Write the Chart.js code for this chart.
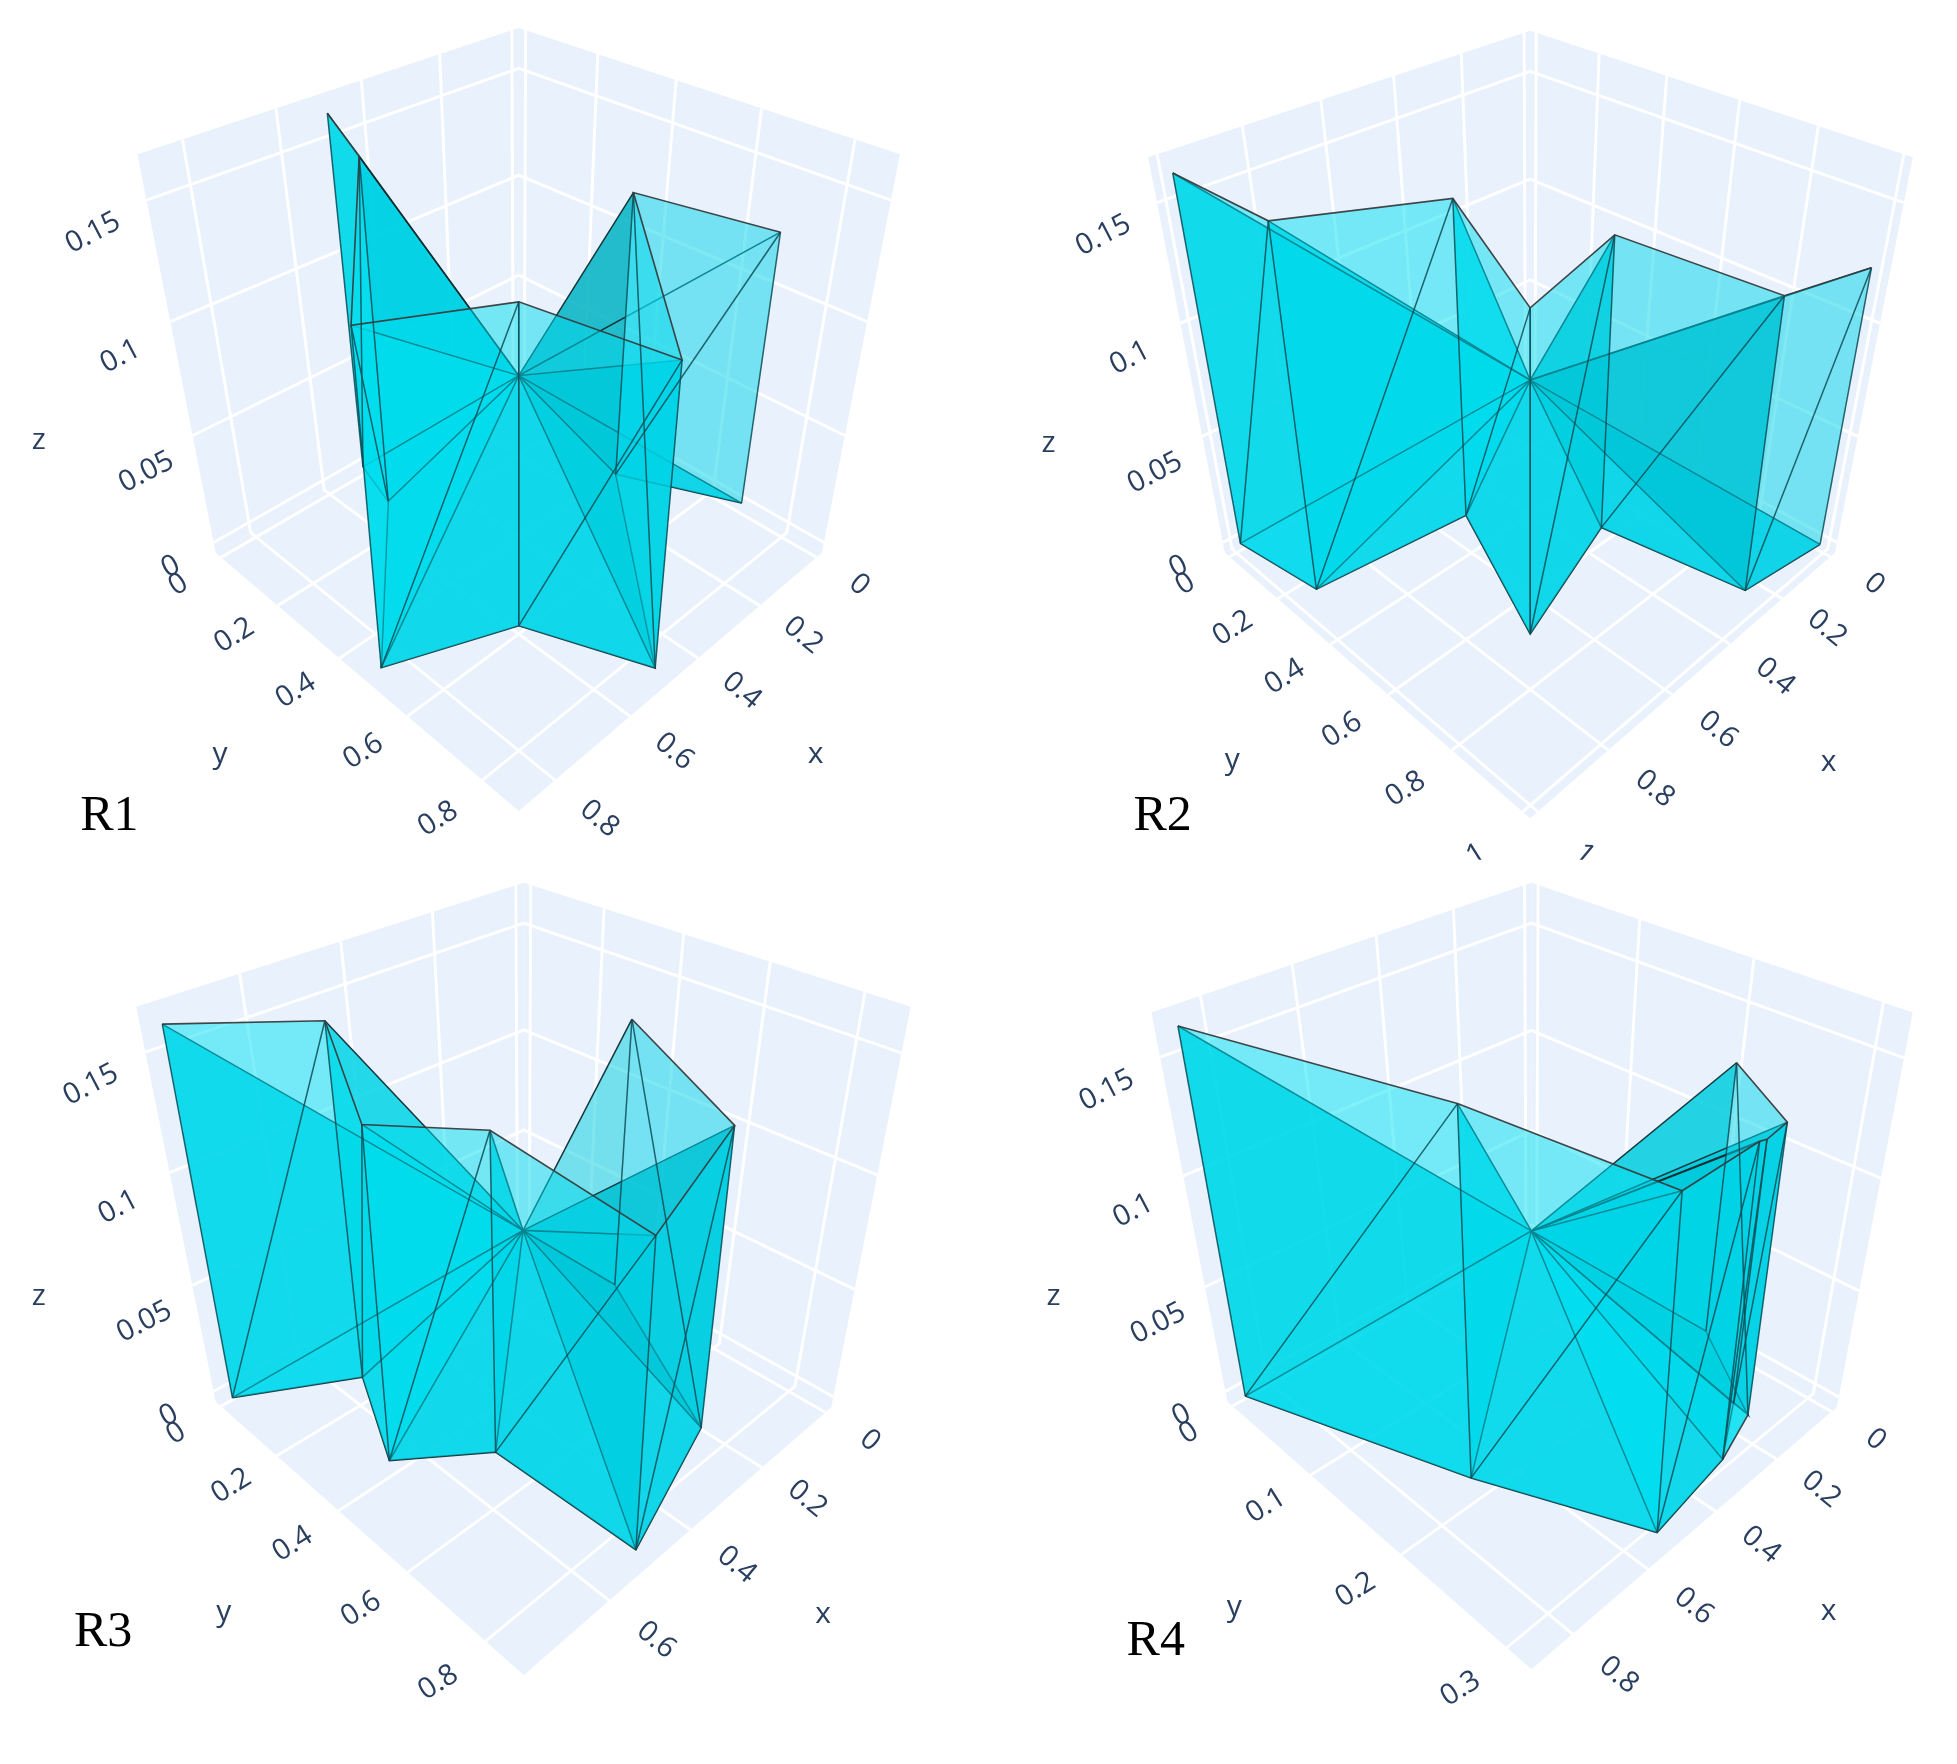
<!DOCTYPE html>
<html>
<head>
<meta charset="utf-8">
<title>R1-R4 meshes</title>
<script src="https://cdn.jsdelivr.net/npm/chart.js@4/dist/chart.umd.min.js"></script>
<style>
  html, body { margin: 0; background: #fff; }
  #grid { position: relative; width: 1957px; height: 1764px; }
  canvas { position: absolute; }
</style>
</head>
<body>
<div id="grid"></div>
<script>
// ---------------------------------------------------------------------------
// Data: the plan outline of each run (x, y) and its height z.
// Every outline vertex exists twice, at z = 0 and at z, and all faces also
// touch the origin.
// ---------------------------------------------------------------------------
const r1X = [0.506, 0.543, 0.865, 0.605, 0.500, 0.120, 0.000];
const r1Y = [0.006, 0.138, 0.498, 0.605, 0.864, 0.429, 0.690];
const r1Z = [0.162, 0.155, 0.140, 0.136, 0.127, 0.131, 0.124];

const r2X = [0.992, 0.957, 0.541, 0.711, 0.339, 0.269, 0.014];
const r2Y = [0.012, 0.268, 0.317, 0.711, 0.584, 0.962, 0.995];
const r2Z = [0.162, 0.157, 0.143, 0.137, 0.132, 0.128, 0.124];

const r3X = [0.770, 0.565, 0.667, 0.523, 0.514, 0.220, 0.007];
const r3Y = [0.024, 0.160, 0.389, 0.516, 0.866, 0.755, 0.314];
const r3Z = [0.163, 0.158, 0.142, 0.137, 0.126, 0.131, 0.128];

const r4X = [0.878, 0.696, 0.543, 0.304, 0.156, 0.163, 0.005];
const r4Y = [0.008, 0.189, 0.311, 0.300, 0.270, 0.285, 0.202];
const r4Z = [0.164, 0.158, 0.141, 0.137, 0.119, 0.130, 0.126];

// tick labels
const r1XTicks = ["0", "0.2", "0.4", "0.6", "0.8"];
const r1YTicks = ["0", "0.2", "0.4", "0.6", "0.8"];
const r2XTicks = ["0", "0.2", "0.4", "0.6", "0.8", "1"];
const r2YTicks = ["0", "0.2", "0.4", "0.6", "0.8", "1"];
const r3XTicks = ["0", "0.2", "0.4", "0.6"];
const r3YTicks = ["0", "0.2", "0.4", "0.6", "0.8"];
const r4XTicks = ["0", "0.2", "0.4", "0.6", "0.8"];
const r4YTicks = ["0", "0.1", "0.2", "0.3"];
const zTicks = ["0", "0.05", "0.1", "0.15"];

// ---------------------------------------------------------------------------
// Panels: axis ranges, and the camera given by the box corners on the picture
// plane (both chart scales run 0..1568 over a panel).
// Corner order: back, x end, front, y end.
// lastSheet is the opacity of the closing sheet at the last outline vertex.
// ---------------------------------------------------------------------------
const panels = [
  {
    name: "R1", left: 0, top: 0, width: 980, height: 880,
    xs: r1X, ys: r1Y, zs: r1Z, xTicks: r1XTicks, yTicks: r1YTicks,
    xRange: [-0.02, 0.89], yRange: [-0.02, 0.89],
    floor: [[830, 674], [345, 985], [830, 1445], [1315, 985]],
    ceil: [[830, 50], [220, 275], [830, 626], [1440, 275]],
    titles: { x: [1305, 1345], y: [352, 1345], z: [62, 785] },
    namePos: [175, 1455], textClip: 1568, lastSheet: 0,
  },
  {
    name: "R2", left: 980, top: 0, width: 977, height: 880,
    xs: r2X, ys: r2Y, zs: r2Z, xTicks: r2XTicks, yTicks: r2YTicks,
    xRange: [-0.02, 1.02], yRange: [-0.02, 1.02],
    floor: [[883, 684], [393, 985], [883, 1458], [1372, 985]],
    ceil: [[883, 55], [270, 280], [883, 631], [1497, 280]],
    titles: { x: [1362, 1358], y: [405, 1355], z: [110, 790] },
    namePos: [293, 1455], textClip: 1532, lastSheet: 0,
  },
  {
    name: "R3", left: 0, top: 880, width: 980, height: 884,
    xs: r3X, ys: r3Y, zs: r3Z, xTicks: r3XTicks, yTicks: r3YTicks,
    xRange: [-0.02, 0.785], yRange: [-0.02, 0.89],
    floor: [[838, 626], [345, 925], [838, 1410], [1330, 935]],
    ceil: [[838, 5], [218, 225], [838, 568], [1457, 225]],
    titles: { x: [1317, 1302], y: [358, 1300], z: [62, 738] },
    namePos: [165, 1335], textClip: 1568, lastSheet: 0.5,
  },
  {
    name: "R4", left: 980, top: 880, width: 977, height: 884,
    xs: r4X, ys: r4Y, zs: r4Z, xTicks: r4XTicks, yTicks: r4YTicks,
    xRange: [-0.02, 0.9], yRange: [-0.007, 0.321],
    floor: [[885, 628], [397, 925], [885, 1400], [1375, 935]],
    ceil: [[885, 5], [275, 235], [885, 594], [1497, 235]],
    titles: { x: [1362, 1297], y: [408, 1290], z: [118, 738] },
    namePos: [282, 1352], textClip: 1568, lastSheet: 0.85,
    extraWall: [3, 4, 5], // the outline folds back here, so the corner needs its own face
  },
];

const zRange = [-0.005, 0.168];
const PERSPECTIVE_Z = 0.895; // top of the box sits closer to the camera
const LABEL_REACH = 1.115;   // tick labels sit this far out along the other axis
const TICK_NUDGE = 5;        // x and y tick labels, downwards on the picture plane
const Z_TICK_NUDGE = 25;     // z tick labels above zero, downwards on the picture plane

// Colours
const WALL_BG = "#e9f1fc";
const GRID = "#ffffff";
const TEXT = "#2a3f5f";
const EDGE_OUTLINE = "rgba(55,60,62,0.95)";
const EDGE_WALL = "rgba(12,75,85,0.85)";
const EDGE_UNDER = "rgba(15,45,50,0.95)";
const FLOOR_FACE = "rgba(0,208,228,0.85)";

// Angle of a point around the z axis, 0 on the x side and 1 on the y side.
function sideOf(x, y) {
  return Math.atan2(Math.max(y, 0), Math.max(x, 0.001)) / (Math.PI / 2);
}

// Sheets are brightest part way round and dim towards the y side.
function sheetColor(x, y, alpha) {
  const t = sideOf(x, y);
  const g = t < 0.4 ? 205 + (t / 0.4) * 17 : 222 - ((t - 0.4) / 0.6) * 60;
  return `rgba(0,${Math.round(g)},${Math.round(g + 17)},${alpha})`;
}

function wallColor(x, y) {
  const t = sideOf(x, y);
  return `rgba(0,${Math.round(228 - 18 * t)},${Math.round(244 - 14 * t)},0.5)`;
}

// ---------------------------------------------------------------------------
// Camera helpers
// ---------------------------------------------------------------------------

// Map the unit square onto a four-sided shape.
function squareToQuad(q) {
  const [p0, p1, p2, p3] = q;
  const dx1 = p1[0] - p2[0], dx2 = p3[0] - p2[0], sx = p0[0] - p1[0] + p2[0] - p3[0];
  const dy1 = p1[1] - p2[1], dy2 = p3[1] - p2[1], sy = p0[1] - p1[1] + p2[1] - p3[1];
  const det = dx1 * dy2 - dx2 * dy1;
  const g = (sx * dy2 - dx2 * sy) / det;
  const h = (dx1 * sy - sx * dy1) / det;
  const a = p1[0] - p0[0] + g * p1[0], b = p3[0] - p0[0] + h * p3[0];
  const d = p1[1] - p0[1] + g * p1[1], e = p3[1] - p0[1] + h * p3[1];
  return (u, v) => {
    const w = g * u + h * v + 1;
    return [(a * u + b * v + p0[0]) / w, (d * u + e * v + p0[1]) / w];
  };
}

// Returns project(x, y, z) -> {x, y} on the picture plane for one panel.
function makeProjection(panel) {
  const floor = squareToQuad(panel.floor);
  const ceil = squareToQuad(panel.ceil);
  return (x, y, z) => {
    const u = (x - panel.xRange[0]) / (panel.xRange[1] - panel.xRange[0]);
    const v = (y - panel.yRange[0]) / (panel.yRange[1] - panel.yRange[0]);
    const w = (z - zRange[0]) / (zRange[1] - zRange[0]);
    const s = PERSPECTIVE_Z * w / (1 + (PERSPECTIVE_Z - 1) * w);
    const a = floor(u, v), b = ceil(u, v);
    return { x: a[0] + (b[0] - a[0]) * s, y: a[1] + (b[1] - a[1]) * s };
  };
}

// ---------------------------------------------------------------------------
// Datasets
// ---------------------------------------------------------------------------

function lineSet(points, color, width) {
  return { data: points, showLine: true, pointRadius: 0, borderColor: color, borderWidth: width, fill: false, tension: 0 };
}

function faceSet(points, color) {
  return { data: points, showLine: true, pointRadius: 0, borderWidth: 0, backgroundColor: color, fill: "shape", tension: 0 };
}

// Box walls, floor and white grid lines.
function boxLayers(panel, project) {
  const [x0, x1] = panel.xRange, [y0, y1] = panel.yRange, [z0, z1] = zRange;
  const out = [
    faceSet([project(x0, y0, z0), project(x1, y0, z0), project(x1, y0, z1), project(x0, y0, z1)], WALL_BG),
    faceSet([project(x0, y0, z0), project(x0, y1, z0), project(x0, y1, z1), project(x0, y0, z1)], WALL_BG),
    faceSet([project(x0, y0, z0), project(x1, y0, z0), project(x1, y1, z0), project(x0, y1, z0)], WALL_BG),
  ];
  panel.xTicks.map(Number).forEach((t) => {
    out.push(lineSet([project(t, y0, z1), project(t, y0, z0), project(t, y1, z0)], GRID, 3));
  });
  panel.yTicks.map(Number).forEach((t) => {
    out.push(lineSet([project(x0, t, z1), project(x0, t, z0), project(x1, t, z0)], GRID, 3));
  });
  zTicks.map(Number).forEach((t) => {
    out.push(lineSet([project(x1, y0, t), project(x0, y0, t), project(x0, y1, t)], GRID, 3));
  });
  return out;
}

// The solid, back to front: floor fan, sheets from the origin up to each
// outline vertex, then the outer walls with their edges on top so that the
// inner edges read through the walls as teal.
function meshLayers(panel, project) {
  const { xs, ys, zs } = panel;
  const n = xs.length;
  const origin = project(0, 0, 0);
  const low = xs.map((x, i) => project(x, ys[i], 0));
  const high = xs.map((x, i) => project(x, ys[i], zs[i]));
  const out = [];

  for (let i = 0; i < n - 1; i++) {
    out.push(faceSet([origin, low[i], low[i + 1]], FLOOR_FACE));
  }
  for (let i = 0; i < n - 1; i++) {
    out.push(faceSet([origin, low[i], high[i]], sheetColor(xs[i], ys[i], 0.85)));
  }
  if (panel.lastSheet > 0) {
    out.push(faceSet([origin, low[n - 1], high[n - 1]], `rgba(0,205,222,${panel.lastSheet})`));
  }
  for (let i = 0; i < n; i++) {
    out.push(lineSet([low[i], origin, high[i]], EDGE_UNDER, 1.5));
  }
  out.push(lineSet(low, EDGE_UNDER, 1.6));

  for (let i = 0; i < n - 1; i++) {
    const wall = wallColor((xs[i] + xs[i + 1]) / 2, (ys[i] + ys[i + 1]) / 2);
    out.push(faceSet([low[i], low[i + 1], high[i + 1]], wall));
    out.push(faceSet([low[i], high[i], high[i + 1]], wall));
  }
  if (panel.extraWall) {
    const [a, b, c] = panel.extraWall;
    out.push(faceSet([low[a], low[b], low[c]], "rgba(0,225,240,0.85)"));
    out.push(lineSet([low[a], low[c]], EDGE_OUTLINE, 1.6));
  }
  for (let i = 0; i < n - 1; i++) {
    out.push(lineSet([high[i + 1], low[i]], EDGE_WALL, 1.5));
  }
  for (let i = 0; i < n; i++) {
    out.push(lineSet([high[i], low[i]], EDGE_WALL, 1.5));
  }
  out.push(lineSet(high, EDGE_OUTLINE, 1.6));
  return out;
}

// ---------------------------------------------------------------------------
// Text: tick labels, axis titles and the panel name, on top of the marks
// ---------------------------------------------------------------------------

function drawText(ctx, text, px, py, angle, font, color) {
  ctx.save();
  ctx.translate(px, py);
  ctx.rotate(angle);
  ctx.font = font;
  ctx.fillStyle = color;
  ctx.textAlign = "center";
  ctx.textBaseline = "middle";
  ctx.fillText(text, 0, 0);
  ctx.restore();
}

function textPlugin(panel, project) {
  return {
    id: "panelText",
    afterDraw(chart) {
      const { ctx, scales } = chart;
      const put = (p, text, angle, font, color, nudge = 0) =>
        drawText(ctx, text, scales.x.getPixelForValue(p.x), scales.y.getPixelForValue(p.y + nudge), angle, font, color);
      const tickFont = '29px "Open Sans"';
      const [x0, x1] = panel.xRange, [y0, y1] = panel.yRange, z0 = zRange[0];
      const xOut = x0 + (x1 - x0) * LABEL_REACH;
      const yOut = y0 + (y1 - y0) * LABEL_REACH;

      // the bottom tick labels of R2 run off the source image
      ctx.save();
      ctx.beginPath();
      ctx.rect(0, 0, chart.width, scales.y.getPixelForValue(panel.textClip));
      ctx.clip();
      panel.xTicks.forEach((t) => put(project(Number(t), yOut, z0), t, 0.69, tickFont, TEXT, TICK_NUDGE));
      panel.yTicks.forEach((t) => put(project(xOut, Number(t), z0), t, -0.56, tickFont, TEXT, TICK_NUDGE));
      ctx.restore();
      zTicks.forEach((t) =>
        put(project(xOut, y0, Number(t)), t, -0.48, tickFont, TEXT, Number(t) > 0 ? Z_TICK_NUDGE : 0));

      const titleFont = '30px "Open Sans"';
      ["x", "y", "z"].forEach((k) => {
        const [tx, ty] = panel.titles[k];
        put({ x: tx, y: ty }, k, 0, titleFont, TEXT);
      });
      put({ x: panel.namePos[0], y: panel.namePos[1] }, panel.name, 0, '50px "Liberation Serif"', "#000000");
    },
  };
}

// ---------------------------------------------------------------------------
// Build one chart per panel
// ---------------------------------------------------------------------------

const grid = document.getElementById("grid");

panels.forEach((panel) => {
  const canvas = document.createElement("canvas");
  canvas.width = panel.width;
  canvas.height = panel.height;
  canvas.style.left = panel.left + "px";
  canvas.style.top = panel.top + "px";
  grid.appendChild(canvas);

  const project = makeProjection(panel);
  // Chart.js paints the first dataset last, so flip the back-to-front list.
  const layers = [...boxLayers(panel, project), ...meshLayers(panel, project)].reverse();

  new Chart(canvas, {
    type: "scatter",
    data: { datasets: layers },
    options: {
      responsive: false,
      animation: false,
      devicePixelRatio: 1,
      layout: { padding: 0 },
      plugins: { legend: { display: false }, tooltip: { enabled: false } },
      scales: {
        x: { type: "linear", min: 0, max: 1568, display: false },
        y: { type: "linear", min: 0, max: 1568, reverse: true, display: false },
      },
    },
    plugins: [textPlugin(panel, project)],
  });
});
</script>
</body>
</html>
